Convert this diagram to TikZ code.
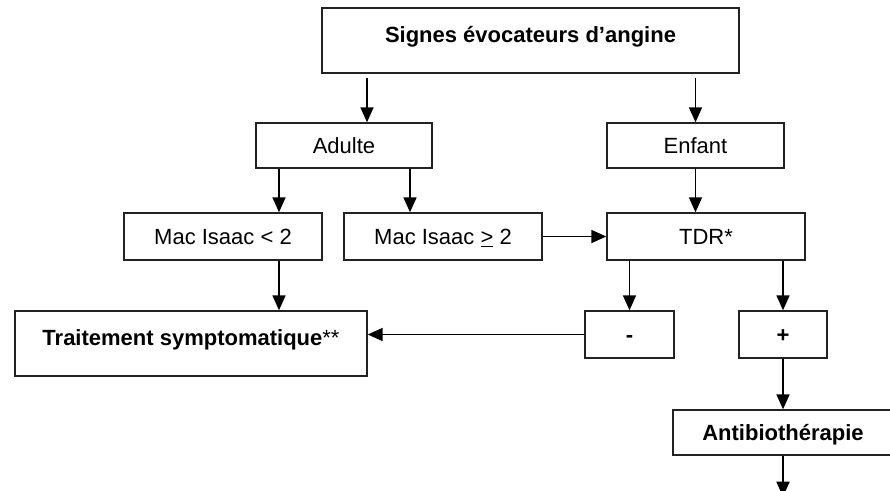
\documentclass[tikz,border=0pt]{standalone}
\usepackage{fontspec}
\setmainfont{Liberation Sans}
\usetikzlibrary{arrows.meta}

\definecolor{angineSketchLine}{RGB}{34,34,34}
\tikzset{angineSketchBox/.style={
    font=\fontsize{22}{26}\selectfont,
    draw=angineSketchLine,
    line width=1.4pt,
    inner sep=0pt,
    text height=16pt,
    text depth=0pt,
    minimum height=46pt,
  }
}
\tikzset{angineSketchTall/.style={
    angineSketchBox,
    font=\fontsize{22}{26}\selectfont\bfseries,
    text height=34pt,
    text depth=31pt,
  }
}
\tikzset{angineSketchArrow/.style={
    -{Triangle[length=15pt,width=13pt]},
    line width=1.7pt,
    black,
  }
}
\newcommand{\angineSketchDrawNodes}{
  \node [angineSketchTall, minimum width=417pt] (signes)
  at (530.5, 40.5) {Signes évocateurs d’angine};
  \node [angineSketchBox, minimum width=176pt, minimum height=45pt] (adulte)
  at (344, 145.5) {Adulte};
  \node [angineSketchBox, minimum width=177pt, minimum height=45pt] (enfant)
  at (695.5, 145.5) {Enfant};
  \node [angineSketchBox, minimum width=198pt, minimum height=47pt] (macMoins)
  at (223, 236.5) {Mac Isaac < 2};
  \node [angineSketchBox, minimum width=198pt, minimum height=47pt] (macPlus)
  at (443, 236.5) {Mac Isaac \underline{>} 2};
  \node [angineSketchBox, minimum width=198pt, minimum height=47pt] (tdr)
  at (706, 236.5) {TDR*};
  \node [angineSketchTall, minimum width=352pt] (traitement)
  at (191, 343.5) {Traitement symptomatique\mdseries**};
  \node [angineSketchBox, font=\fontsize{22}{26}\selectfont\bfseries,
  minimum width=89pt, minimum height=47pt] (moins)
  at (629.5, 334.5) {-};
  \node [angineSketchBox, font=\fontsize{22}{26}\selectfont\bfseries,
  minimum width=88pt, minimum height=47pt] (plus)
  at (783, 334.5) {+};
  \node [angineSketchBox, font=\fontsize{22}{26}\selectfont\bfseries,
  minimum width=220pt, minimum height=45pt] (antibio)
  at (783, 432.5) {Antibiothérapie};
}
\newcommand{\angineSketchConnectNodes}{
  \coordinate (versAdulte) at ([xshift=23pt]adulte.north);
  \coordinate (versMacMoins) at ([xshift=-65pt]adulte.south);
  \coordinate (versMacPlus) at ([xshift=66pt]adulte.south);
  \coordinate (suite) at ([yshift=-41pt]antibio.south);
  \draw[angineSketchArrow, shorten <=4pt] (versAdulte |- signes.south) to (versAdulte);
  \draw[angineSketchArrow, shorten <=4pt] (signes.south -| enfant.north) to (enfant.north);
  \draw[angineSketchArrow] (versMacMoins) to (versMacMoins |- macMoins.north);
  \draw[angineSketchArrow] (versMacPlus) to (versMacPlus |- macPlus.north);
  \draw[angineSketchArrow] (enfant.south) to (enfant.south |- tdr.north);
  \draw[angineSketchArrow] (macPlus.east) to (tdr.west);
  \draw[angineSketchArrow] (macMoins.south -| versMacMoins) to (traitement.north -| versMacMoins);
  \draw[angineSketchArrow] (tdr.south -| moins.north) to (moins.north);
  \draw[angineSketchArrow] (tdr.south -| plus.north) to (plus.north);
  \draw[angineSketchArrow] (moins.west) to (moins.west -| traitement.east);
  \draw[angineSketchArrow] (plus.south) to (antibio.north);
  \draw[angineSketchArrow] (antibio.south) to (suite);
}

\begin{document}
\begin{tikzpicture}[x=1pt, y=-1pt]
      \useasboundingbox (0, 0) rectangle (890, 490);
      \clip (0, 0) rectangle (890, 490);
      \angineSketchDrawNodes
      \angineSketchConnectNodes
    \end{tikzpicture}
\end{document}
